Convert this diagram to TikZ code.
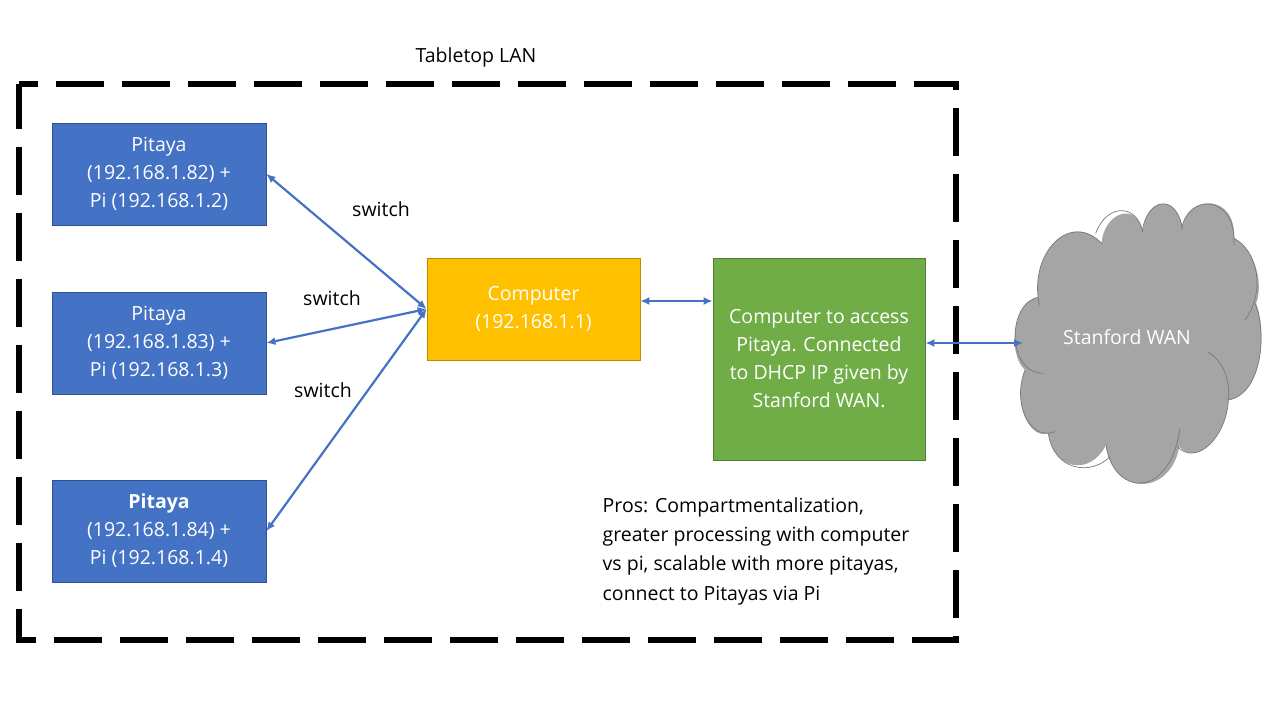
\documentclass[tikz,border=0pt]{standalone}
\usepackage{fontspec}
\setmainfont{Open Sans}
\usetikzlibrary{arrows.meta,calc}
\definecolor{boxblue}{HTML}{4472C4}
\definecolor{boxedge}{HTML}{2F528F}
\definecolor{boxgold}{HTML}{FFC000}
\definecolor{goldedge}{HTML}{BC8C00}
\definecolor{boxgreen}{HTML}{70AD47}
\definecolor{greenedge}{HTML}{507E32}
\definecolor{cloudfill}{HTML}{A5A5A5}
\definecolor{cloudedge}{HTML}{787878}
\tikzset{
 box/.style={draw=boxedge,fill=boxblue,line width=0.8pt,minimum width=214pt,minimum height=102pt,inner sep=0pt,align=center,text=white,font=\fontsize{19.5}{28}\selectfont},
 link/.style={draw=boxblue,line width=2.2pt,{Latex[length=9pt,width=8pt]}-{Latex[length=9pt,width=8pt]},shorten <=0pt,shorten >=0pt},
 lbl/.style={inner sep=0pt,align=left,font=\fontsize{19.5}{28}\selectfont},
 lobe/.style={draw=cloudedge,line width=0.7pt},
}
\begin{document}
\begin{tikzpicture}[x=1pt,y=-1pt]
\useasboundingbox (0,0) rectangle (1280,720);
\draw[black,line width=6pt,dash pattern=on 48pt off 18pt,dash phase=29pt] (19,84) -- (956,84) -- (956,640) -- (19,640) -- cycle;
\node[lbl] (title) at (476,57) {Tabletop LAN};
\node[box] (p1) at (159,174) {Pitaya\\(192.168.1.82) +\\Pi (192.168.1.2)};
\node[box] (p2) at (159,343) {Pitaya\\(192.168.1.83) +\\Pi (192.168.1.3)};
\node[box] (p3) at (159,531) {\textbf{Pitaya}\\(192.168.1.84) +\\Pi (192.168.1.4)};
\node[box,draw=goldedge,fill=boxgold,minimum width=213pt] (comp) at (533.5,309) {Computer\\(192.168.1.1)};
\node[box,draw=greenedge,fill=boxgreen,minimum width=212pt,minimum height=202pt] (green) at (819,359) {Computer to access\\Pitaya. Connected\\to DHCP IP given by\\Stanford WAN.};
\node[lbl] (s1) at (381,209) {switch};
\node[lbl] (s2) at (332,298) {switch};
\node[lbl] (s3) at (323,390) {switch};
\node[lbl,font=\fontsize{19.5}{29.3}\selectfont] (pros) at (756,551) {Pros: Compartmentalization,\\greater processing with computer\\vs pi, scalable with more pitayas,\\connect to Pitayas via Pi};
\begin{scope}[shift={(1000,190)},x=.33333pt,y=-.33333pt]
\fill[cloudfill] (115,322) .. controls (95,190) and (210,60) .. (305,160)
 .. controls (310,70) and (410,30) .. (428,125)
 .. controls (440,20) and (530,10) .. (547,115)
 .. controls (560,10) and (710,10) .. (702,145)
 .. controls (770,180) and (790,290) .. (768,340)
 .. controls (800,420) and (790,610) .. (685,630)
 .. controls (680,740) and (590,830) .. (538,770)
 .. controls (510,920) and (340,920) .. (318,765)
 .. controls (270,860) and (160,840) .. (145,730)
 .. controls (90,750) and (35,640) .. (75,540)
 .. controls (20,490) and (40,330) .. (115,322) -- cycle;
\draw[lobe] (118,345) .. controls (85,190) and (210,60) .. (307,162);
\draw[lobe] (287,130) .. controls (320,40) and (410,40) .. (428,125);
\draw[lobe] (426,128) .. controls (440,20) and (530,10) .. (547,115);
\draw[lobe] (545,118) .. controls (560,10) and (710,10) .. (702,165);
\draw[lobe] (702,145) .. controls (770,180) and (800,300) .. (735,390);
\draw[lobe] (765,340) .. controls (800,420) and (790,610) .. (685,630);
\draw[lobe] (625,487) .. controls (680,520) and (690,590) .. (685,630) .. controls (680,740) and (590,830) .. (532,770);
\draw[lobe] (540,715) .. controls (510,930) and (340,920) .. (318,765);
\draw[lobe] (330,800) .. controls (270,860) and (160,840) .. (145,730);
\draw[lobe] (165,725) .. controls (90,755) and (35,640) .. (75,540);
\draw[lobe] (130,550) .. controls (20,550) and (20,340) .. (115,322);
\end{scope}
\node[inner sep=0pt,text=white,font=\fontsize{19.5}{28}\selectfont] (wan) at (1127,337) {Stanford WAN};
\coordinate (wanedge) at (1023,343);
\draw[link] (p1.east) -- (comp.west);
\draw[link] (p2.east) -- (comp.west);
\draw[link] (p3.east) -- (comp.west);
\draw[link] (comp.east |- 0,301) -- (green.west |- 0,301);
\draw[link] (green.east |- wanedge) -- (wanedge);
\end{tikzpicture}
\end{document}
